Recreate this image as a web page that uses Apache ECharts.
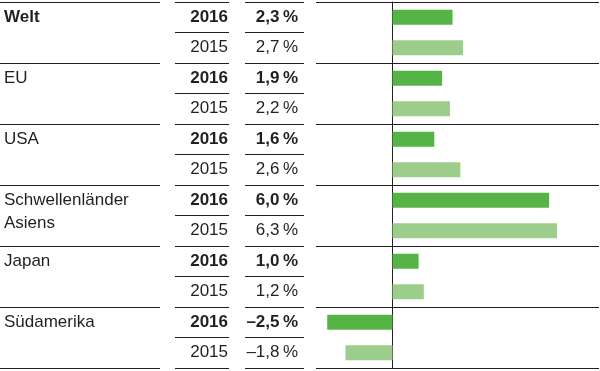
<!DOCTYPE html>
<html>
<head>
<meta charset="utf-8">
<script src="https://cdn.jsdelivr.net/npm/echarts@6/dist/echarts.min.js"></script>
<style>html,body{margin:0;padding:0;background:#fff}#main{width:600px;height:371px}</style>
</head>
<body>
<div id="main"></div>
<script>
// ---- data ----
const regions = ['Welt', 'EU', 'USA', 'Schwellenländer', 'Japan', 'Südamerika'];
const regionLine2 = ['', '', '', 'Asiens', '', ''];
const years = ['2016', '2015'];
const growth2016 = [2.3, 1.9, 1.6, 6.0, 1.0, -2.5];
const growth2015 = [2.7, 2.2, 2.6, 6.3, 1.2, -1.8];

// ---- build ----
const rowIds = [];
regions.forEach((r, i) => { rowIds.push(i + '-' + years[0]); rowIds.push(i + '-' + years[1]); });

const lineColor = '#231f20';
const lineStyle = { color: lineColor, width: 1 };
const font = { fontFamily: 'Liberation Sans, Arial, sans-serif', fontSize: 17, color: '#231f20' };
const rich = {
  b: Object.assign({}, font, { fontWeight: 'bold' }),
  n: Object.assign({}, font),
  nu: Object.assign({}, font, { padding: [0, 0, 14, 0] })
};
function wrap(text, bold, up) {
  if (!text) return '';
  return '{' + (bold ? 'b' : (up ? 'nu' : 'n')) + '|' + text + '}';
}
const fmt = v => (v < 0 ? '\u2013' : '') + Math.abs(v).toFixed(1).replace('.', ',') + '\u2009%';

const gTop = 2, gBottom = 3;
const hidden = { axisLine: { show: false }, axisTick: { show: false } };

const option = {
  animation: false,
  backgroundColor: '#ffffff',
  grid: [
    { left: 0, width: 160, top: gTop, bottom: gBottom },
    { left: 175, width: 54, top: gTop, bottom: gBottom },
    { left: 245, width: 59, top: gTop, bottom: gBottom },
    { left: 316, right: 1, top: gTop, bottom: gBottom }
  ],
  xAxis: [
    { gridIndex: 0, type: 'value', show: false, min: 0, max: 1 },
    { gridIndex: 1, type: 'value', show: false, min: 0, max: 1 },
    { gridIndex: 2, type: 'value', show: false, min: 0, max: 1 },
    { gridIndex: 3, type: 'value', show: false, min: -2.93, max: 7.91 }
  ],
  yAxis: [
    Object.assign({ gridIndex: 0, type: 'category', data: rowIds, inverse: true, splitLine: { show: false },
      axisLabel: { inside: true, margin: 4, align: 'left', interval: 0, rich: rich,
        formatter: (v, i) => i % 2 === 0 ? wrap(regions[i / 2], i === 0, false) : wrap(regionLine2[(i - 1) / 2], false, true) } }, hidden),
    Object.assign({ gridIndex: 0, type: 'category', data: regions, inverse: true, axisLabel: { show: false },
      splitLine: { show: true, lineStyle: lineStyle } }, hidden),
    Object.assign({ gridIndex: 1, type: 'category', data: rowIds, inverse: true, position: 'right',
      splitLine: { show: true, lineStyle: lineStyle },
      axisLabel: { inside: true, margin: 1, align: 'right', interval: 0, rich: rich,
        formatter: (v, i) => wrap(years[i % 2], i % 2 === 0, false) } }, hidden),
    Object.assign({ gridIndex: 2, type: 'category', data: rowIds, inverse: true, position: 'right',
      splitLine: { show: true, lineStyle: lineStyle },
      axisLabel: { inside: true, margin: 6, align: 'right', interval: 0, rich: rich,
        formatter: (v, i) => wrap(fmt(i % 2 === 0 ? growth2016[i / 2] : growth2015[(i - 1) / 2]), i % 2 === 0, false) } }, hidden),
    { gridIndex: 3, type: 'category', data: rowIds, inverse: true,
      axisLine: { show: true, onZero: true, lineStyle: lineStyle }, axisTick: { show: false },
      axisLabel: { show: false }, splitLine: { show: false } },
    Object.assign({ gridIndex: 3, type: 'category', data: regions, inverse: true, axisLabel: { show: false },
      splitLine: { show: true, lineStyle: lineStyle } }, hidden)
  ],
  series: [
    { type: 'bar', xAxisIndex: 3, yAxisIndex: 4, barWidth: 15, barGap: '-100%', silent: true,
      itemStyle: { color: '#56b446' },
      data: rowIds.map((_, r) => r % 2 === 0 ? growth2016[r / 2] : '-') },
    { type: 'bar', xAxisIndex: 3, yAxisIndex: 4, barWidth: 15, barGap: '-100%', silent: true,
      itemStyle: { color: '#9ccd8a' },
      data: rowIds.map((_, r) => r % 2 === 1 ? growth2015[(r - 1) / 2] : '-') }
  ]
};
const chart = echarts.init(document.getElementById('main'));
chart.setOption(option);
</script>
</body>
</html>
